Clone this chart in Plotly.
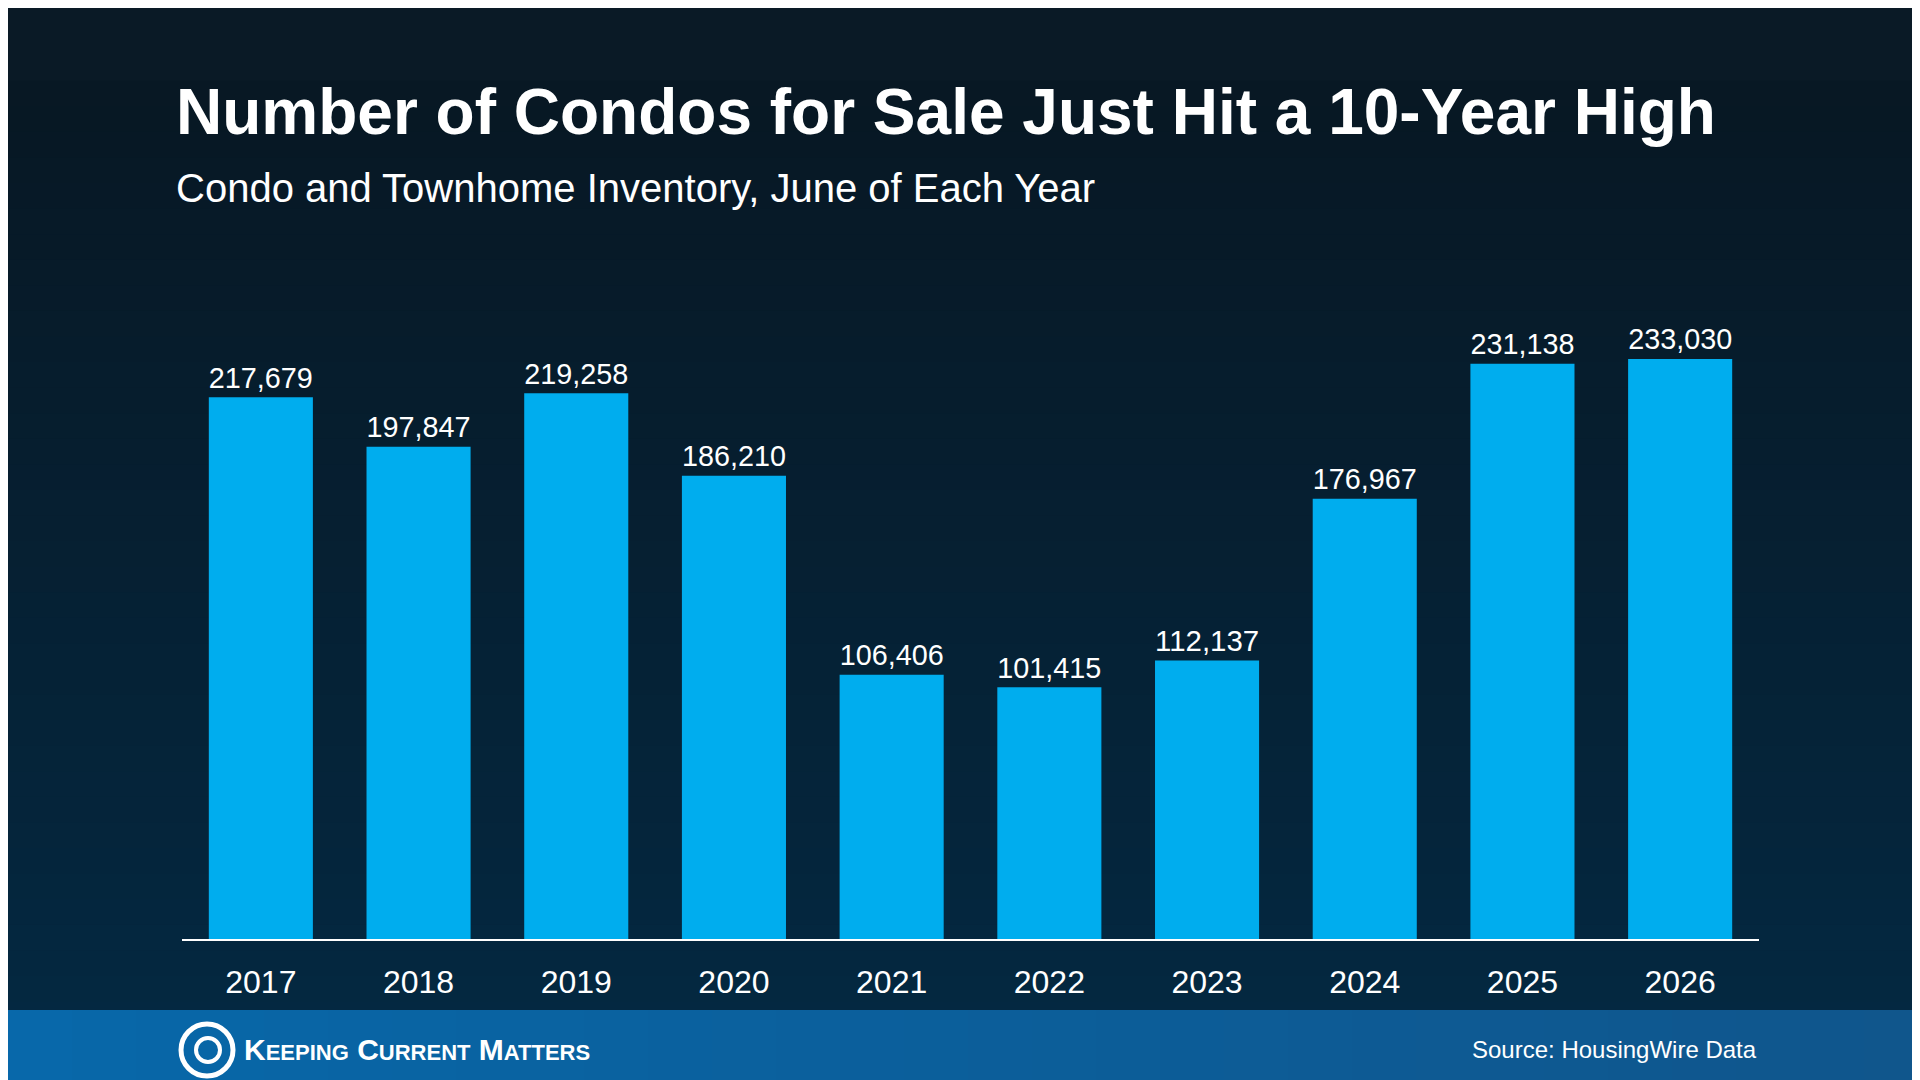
import plotly.graph_objects as go

years = ["2017","2018","2019","2020","2021","2022","2023","2024","2025","2026"]
values = [217679,197847,219258,186210,106406,101415,112137,176967,231138,233030]
labels = [f"{v:,}" for v in values]

W, H = 1920, 1080
fig = go.Figure(go.Bar(x=years, y=values, text=labels, textposition="outside",
    textfont=dict(color="white", size=31, family="Liberation Sans"),
    marker=dict(color="#00adee", line=dict(width=0)), cliponaxis=False))

shapes = []
n = 40
top = (8, 24, 36); bot = (4, 42, 68)
for i in range(n):
    t = i / (n - 1)
    c = tuple(int(top[k] + (bot[k] - top[k]) * t) for k in range(3))
    shapes.append(dict(type="rect", xref="paper", yref="paper", layer="below",
        x0=-1, x1=2, y0=1 - (i + 1) / n * 1.5 + 0.25, y1=1 - i / n * 1.5 + 0.25 + 0.01,
        fillcolor=f"rgb{c}", line=dict(width=0)))

pt, pb = 250, 148
ph = H - pt - pb
def py(y):
    return (H - pb - y) / ph
pl, pr = 174, 169
pw = W - pl - pr
def px(x):
    return (x - pl) / pw
m = 30
for i in range(m):
    t = i / (m - 1)
    c0 = (8, 104, 170); c1 = (16, 86, 140)
    c = tuple(int(c0[k] + (c1[k] - c0[k]) * t) for k in range(3))
    shapes.append(dict(type="rect", xref="paper", yref="paper", layer="above",
        x0=px(i * W / m), x1=px((i + 1) * W / m + 1), y0=py(1080), y1=py(1002),
        fillcolor=f"rgb{c}", line=dict(width=0)))
shapes.append(dict(type="line", xref="paper", yref="paper", x0=0, x1=1, y0=0, y1=0,
    line=dict(color="white", width=2)))
shapes.append(dict(type="circle", xref="paper", yref="paper", layer="above",
    x0=px(173), x1=px(225), y0=py(1068), y1=py(1016), line=dict(color="white", width=5)))
shapes.append(dict(type="circle", xref="paper", yref="paper", layer="above",
    x0=px(188), x1=px(212), y0=py(1054), y1=py(1030), line=dict(color="white", width=4)))

ann = [
    dict(text="<b>Number of Condos for Sale Just Hit a 10-Year High</b>", x=px(166), y=py(104),
         xanchor="left", yanchor="middle", font=dict(size=64, color="white", family="Liberation Sans")),
    dict(text="Condo and Townhome Inventory, June of Each Year", x=px(166), y=py(180),
         xanchor="left", yanchor="middle", font=dict(size=40, color="white", family="Liberation Sans")),
    dict(text="<b>K<span style='font-size:22px'>EEPING</span> C<span style='font-size:22px'>URRENT</span> M<span style='font-size:22px'>ATTERS</span></b>",
         x=px(234), y=py(1041), xanchor="left", yanchor="middle",
         font=dict(size=30, color="white", family="Liberation Sans")),
    dict(text="Source: HousingWire Data", x=px(1751), y=py(1041), xanchor="right", yanchor="middle",
         font=dict(size=24, color="white", family="Liberation Sans")),
]
for a in ann:
    a.update(xref="paper", yref="paper", showarrow=False)

fig.update_layout(width=W, height=H, margin=dict(l=pl, r=pr, t=pt, b=pb),
    paper_bgcolor="#0a1a26", plot_bgcolor="rgba(0,0,0,0)", bargap=0.34,
    shapes=shapes, annotations=ann, showlegend=False,
    xaxis=dict(showgrid=False, showline=False, ticks="outside", ticklen=14, tickcolor="rgba(0,0,0,0)",
               tickfont=dict(size=32, color="white", family="Liberation Sans")),
    yaxis=dict(range=[0, 233030 * ph / 581], visible=False, showgrid=False))
fig.write_html("out.html")
